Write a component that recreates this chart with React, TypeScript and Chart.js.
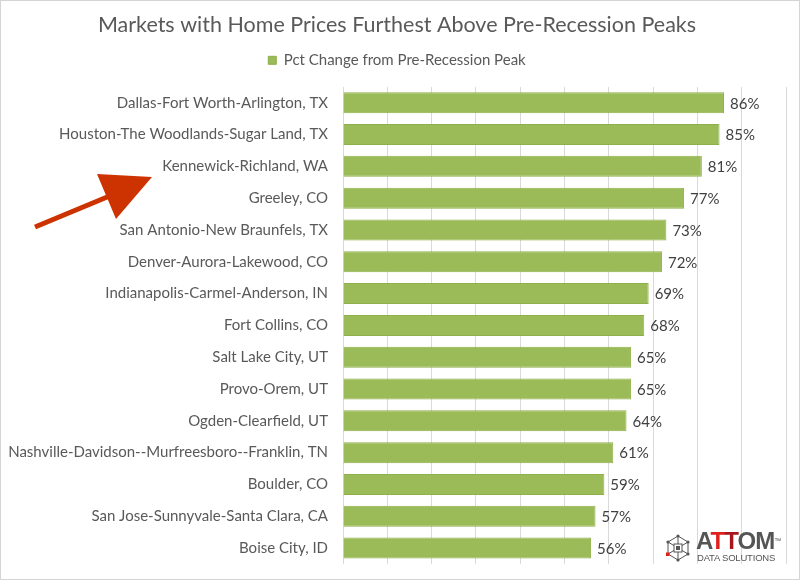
import React, { useEffect, useRef } from "react";
import { Chart, registerables } from "chart.js";

Chart.register(...registerables);

const chartTitle = "Markets with Home Prices Furthest Above Pre-Recession Peaks";
const seriesName = "Pct Change from Pre-Recession Peak";
const categories = [
  "Dallas-Fort Worth-Arlington, TX",
  "Houston-The Woodlands-Sugar Land, TX",
  "Kennewick-Richland, WA",
  "Greeley, CO",
  "San Antonio-New Braunfels, TX",
  "Denver-Aurora-Lakewood, CO",
  "Indianapolis-Carmel-Anderson, IN",
  "Fort Collins, CO",
  "Salt Lake City, UT",
  "Provo-Orem, UT",
  "Ogden-Clearfield, UT",
  "Nashville-Davidson--Murfreesboro--Franklin, TN",
  "Boulder, CO",
  "San Jose-Sunnyvale-Santa Clara, CA",
  "Boise City, ID",
];
const values = [86, 85, 81, 77, 73, 72, 69, 68, 65, 65, 64, 61, 59, 57, 56];
const axisMin = 0;
const axisMax = 100;
const axisStep = 10;

const FONT = "Lato";

const valueLabels = {
  id: "valueLabels",
  afterDatasetsDraw(chart: any) {
    const ctx = chart.ctx;
    const meta = chart.getDatasetMeta(0);
    ctx.save();
    ctx.font = `15px ${FONT}`;
    ctx.fillStyle = "#404040";
    ctx.textAlign = "left";
    ctx.textBaseline = "middle";
    meta.data.forEach((bar: any, i: number) => {
      ctx.fillText(`${values[i]}%`, bar.x + 6, bar.y + 1);
    });
    ctx.restore();
  },
};

const arrowPlugin = {
  id: "arrow",
  afterDraw(chart: any) {
    const ctx = chart.ctx;
    ctx.save();
    ctx.strokeStyle = "#CC3300";
    ctx.fillStyle = "#CC3300";
    ctx.lineWidth = 5;
    ctx.beginPath();
    ctx.moveTo(35, 227);
    ctx.lineTo(112, 195);
    ctx.stroke();
    ctx.beginPath();
    ctx.moveTo(97, 174);
    ctx.lineTo(152, 177);
    ctx.lineTo(116, 219);
    ctx.closePath();
    ctx.fill();
    ctx.restore();
  },
};

function Logo() {
  return (
    <div style={{ position: "absolute", left: 665, top: 532, width: 125, height: 34, pointerEvents: "none" }}>
      <svg width="26" height="30" viewBox="0 0 26 30" style={{ position: "absolute", left: 0, top: 2 }}>
        <g stroke="#555" strokeWidth="1" fill="none">
          <polygon points="13,2 23,8 23,20 13,26 3,20 3,8" />
          <line x1="13" y1="2" x2="13" y2="26" />
          <line x1="3" y1="8" x2="23" y2="20" />
          <line x1="23" y1="8" x2="3" y2="20" />
          <rect x="9" y="10" width="8" height="8" fill="#fff" />
        </g>
        <g fill="#555">
          <circle cx="13" cy="2" r="1.6" />
          <circle cx="23" cy="8" r="1.6" />
          <circle cx="23" cy="20" r="1.6" />
          <circle cx="13" cy="26" r="1.6" />
          <circle cx="3" cy="8" r="1.6" />
          <rect x="11" y="12" width="4" height="4" />
        </g>
        <rect x="1" y="18.5" width="3.5" height="3.5" fill="#e0201b" />
      </svg>
      <div
        style={{
          position: "absolute",
          left: 31,
          top: -3,
          fontFamily: "'Liberation Sans', Arial, sans-serif",
          fontWeight: 700,
          fontSize: 24,
          letterSpacing: -1,
          color: "#555",
          lineHeight: "24px",
          whiteSpace: "nowrap",
        }}
      >
        A<span style={{ color: "#e0201b" }}>T</span>
        <span style={{ color: "#a8161b" }}>T</span>OM
        <span style={{ fontSize: 7, verticalAlign: "top", letterSpacing: 0, fontWeight: 400 }}>™</span>
      </div>
      <div
        style={{
          position: "absolute",
          left: 32,
          top: 20,
          fontFamily: "'Liberation Sans', Arial, sans-serif",
          fontSize: 9.5,
          color: "#555",
          whiteSpace: "nowrap",
          letterSpacing: -0.2,
        }}
      >
        DATA SOLUTIONS
      </div>
    </div>
  );
}

export default function App() {
  const canvasRef = useRef<HTMLCanvasElement | null>(null);

  useEffect(() => {
    document.body.style.margin = "0";
    const canvas = canvasRef.current;
    if (!canvas) return;
    const chart = new Chart(canvas, {
      type: "bar",
      data: {
        labels: categories,
        datasets: [
          {
            label: seriesName,
            data: values,
            backgroundColor: "#9BBB59",
            borderColor: "#8DB04A",
            borderWidth: 1,
            barPercentage: 0.66,
            categoryPercentage: 1,
          },
        ],
      },
      options: {
        indexAxis: "y",
        animation: false,
        responsive: false,
        maintainAspectRatio: false,
        layout: { padding: { left: 8, right: 14, bottom: 12, top: 0 } },
        plugins: {
          title: {
            display: true,
            text: chartTitle,
            color: "#595959",
            font: { family: FONT, size: 21.5, weight: "normal" },
            padding: { top: 12, bottom: 5 },
          },
          legend: {
            display: true,
            labels: {
              boxWidth: 8,
              boxHeight: 8,
              color: "#595959",
              font: { family: FONT, size: 15 },
              padding: 10,
            },
          },
          tooltip: { enabled: false },
        },
        scales: {
          x: {
            position: "top",
            min: axisMin,
            max: axisMax,
            ticks: { display: false, stepSize: axisStep },
            grid: { color: "#D9D9D9", drawTicks: false, lineWidth: 1 },
            border: { display: false },
            afterFit: (scale: any) => {
              scale.height = 9;
            },
          },
          y: {
            ticks: {
              color: "#595959",
              font: { family: FONT, size: 15 },
              padding: 7,
              autoSkip: false,
            },
            grid: { display: false },
            border: { display: false },
            afterFit: (scale: any) => {
              scale.width = 335;
            },
          },
        },
      },
      plugins: [valueLabels, arrowPlugin],
    });
    return () => chart.destroy();
  }, []);

  return (
    <div style={{ position: "relative", width: 800, height: 580, background: "#fff" }}>
      <canvas ref={canvasRef} width={800} height={580} style={{ display: "block" }} />
      <Logo />
      <div
        style={{
          position: "absolute",
          left: 0,
          top: 0,
          width: 800,
          height: 580,
          boxSizing: "border-box",
          border: "1px solid #D4D4D4",
          pointerEvents: "none",
        }}
      />
    </div>
  );
}
